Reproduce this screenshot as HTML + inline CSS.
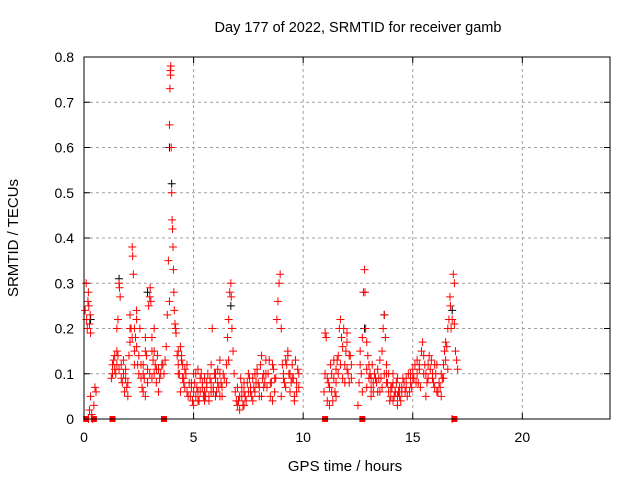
<!DOCTYPE html>
<html><head><meta charset="utf-8"><style>
body{margin:0;background:#fff}
svg{display:block;font-family:"Liberation Sans",sans-serif}
</style></head><body>
<svg id="chart" width="640" height="480">
<text x="358" y="32" font-size="14.5" text-anchor="middle">Day 177 of 2022, SRMTID for receiver gamb</text>
<text x="345" y="471" font-size="15" text-anchor="middle">GPS time / hours</text>
<text transform="translate(18,238) rotate(-90)" font-size="15" text-anchor="middle">SRMTID / TECUs</text>
<g id="grid"></g><g id="ticks"></g><g id="marks"></g>
<rect x="84" y="57" width="526" height="362" fill="none" stroke="#000" stroke-width="1"/>
</svg>
<script>
const xTicks=[0,5,10,15,20];
const yTicks=[0,0.1,0.2,0.3,0.4,0.5,0.6,0.7,0.8];
const yTickLabels=["0","0.1","0.2","0.3","0.4","0.5","0.6","0.7","0.8"];
const redTimes=[0.05,0.1,0.12,0.15,0.18,0.2,0.22,0.25,0.28,0.3,0.2,0.25,0.3,0.35,0.4,0.45,0.5,0.55,
1.25,1.3,1.35,1.4,1.45,1.5,1.55,1.6,1.62,1.65,1.7,1.75,1.8,1.85,1.9,1.95,2.0,1.5,1.55,1.6,
2.05,2.1,2.15,2.2,2.22,2.25,2.3,2.35,2.4,2.45,2.5,2.55,2.6,2.1,2.2,2.3,2.4,2.5,
2.65,2.7,2.75,2.8,2.85,2.9,2.95,3.0,3.02,3.05,3.1,3.15,3.2,3.25,3.3,3.35,3.4,3.45,3.5,3.55,2.7,2.8,3.1,3.2,
3.6,3.65,3.7,3.75,3.8,3.85,3.9,3.92,3.94,3.96,3.98,4.0,4.02,4.04,4.06,4.08,4.1,4.12,4.15,4.18,4.2,3.9,3.95,
4.25,4.3,4.35,4.4,4.45,4.5,4.55,4.6,4.65,4.7,4.75,4.8,4.3,4.4,4.5,4.6,
4.85,4.9,5.0,5.05,5.1,5.2,5.25,5.3,5.4,5.45,5.5,5.6,5.65,5.7,5.8,5.85,5.9,6.0,6.05,6.1,6.2,6.25,6.3,5.0,5.2,5.5,5.8,6.0,6.2,
6.35,6.4,6.5,6.55,6.6,6.65,6.7,6.72,6.75,6.8,6.85,6.9,6.95,7.0,6.5,6.6,
7.05,7.1,7.2,7.25,7.3,7.4,7.45,7.5,7.6,7.65,7.7,7.8,7.85,7.9,8.0,8.05,8.1,8.2,8.25,8.3,7.3,7.6,7.9,8.1,
8.35,8.4,8.5,8.55,8.6,8.7,8.75,8.8,8.85,8.9,8.95,9.0,9.05,9.1,9.15,9.2,9.3,9.35,9.4,9.5,9.55,9.6,9.7,9.75,9.8,8.6,9.0,9.3,9.6,
10.95,11.0,11.05,11.1,11.15,11.2,11.25,11.3,11.35,11.4,11.45,11.5,11.55,11.6,11.65,11.7,11.75,11.8,11.85,11.9,11.95,12.0,12.05,12.1,12.15,12.2,11.2,11.5,11.8,12.0,
12.5,12.55,12.6,12.65,12.7,12.75,12.8,12.82,12.85,12.9,12.95,13.0,13.05,13.1,13.15,13.2,13.25,13.3,12.7,12.9,13.1,
13.35,13.4,13.5,13.55,13.6,13.65,13.7,13.75,13.8,13.85,13.9,14.0,14.05,14.1,14.2,14.25,14.3,14.4,14.45,14.5,14.6,13.5,13.8,14.1,14.3,
14.65,14.7,14.8,14.85,14.9,15.0,15.05,15.1,15.2,15.25,15.3,15.4,15.45,15.5,15.6,15.65,15.7,15.8,15.85,15.9,16.0,16.05,16.1,16.2,16.25,16.3,16.35,15.2,15.6,16.0,
16.4,16.45,16.5,16.55,16.6,16.65,16.7,16.72,16.75,16.8,16.85,16.9,16.95,17.0,17.05,16.8,16.9];
const redValues=[0.24,0.3,0.22,0.2,0.26,0.28,0.25,0.21,0.23,0.19,0.0,0.02,0.05,0.01,0.0,0.03,0.07,0.06,
0.09,0.12,0.13,0.11,0.1,0.15,0.14,0.3,0.29,0.27,0.12,0.08,0.1,0.06,0.09,0.07,0.05,0.2,0.22,0.11,
0.14,0.17,0.2,0.38,0.36,0.32,0.2,0.18,0.16,0.12,0.14,0.2,0.09,0.23,0.18,0.15,0.24,0.1,
0.07,0.12,0.09,0.15,0.14,0.11,0.25,0.27,0.29,0.26,0.18,0.13,0.1,0.12,0.08,0.14,0.11,0.09,0.1,0.12,0.06,0.05,0.15,0.2,
0.12,0.1,0.13,0.16,0.23,0.35,0.65,0.73,0.77,0.78,0.6,0.5,0.44,0.42,0.38,0.33,0.28,0.24,0.21,0.2,0.19,0.26,0.76,
0.14,0.12,0.1,0.16,0.13,0.09,0.08,0.07,0.1,0.06,0.05,0.08,0.15,0.06,0.12,0.11,
0.05,0.07,0.03,0.08,0.05,0.06,0.04,0.09,0.07,0.05,0.06,0.08,0.1,0.05,0.06,0.2,0.07,0.09,0.06,0.11,0.13,0.08,0.07,0.1,0.11,0.04,0.12,0.1,0.05,
0.1,0.09,0.12,0.18,0.22,0.28,0.3,0.27,0.2,0.15,0.1,0.06,0.04,0.03,0.08,0.13,
0.04,0.02,0.05,0.03,0.06,0.04,0.08,0.1,0.07,0.05,0.09,0.06,0.08,0.1,0.07,0.12,0.14,0.1,0.08,0.13,0.03,0.06,0.11,0.05,
0.07,0.1,0.05,0.08,0.12,0.06,0.09,0.22,0.26,0.3,0.32,0.2,0.12,0.1,0.08,0.13,0.15,0.1,0.06,0.12,0.09,0.05,0.08,0.11,0.1,0.04,0.05,0.14,0.04,
0.06,0.19,0.18,0.04,0.08,0.07,0.12,0.1,0.04,0.09,0.06,0.11,0.13,0.14,0.2,0.22,0.18,0.16,0.2,0.12,0.15,0.17,0.1,0.08,0.14,0.12,0.03,0.05,0.09,0.19,
0.03,0.08,0.12,0.1,0.18,0.28,0.33,0.28,0.2,0.17,0.14,0.09,0.1,0.07,0.12,0.08,0.1,0.09,0.06,0.11,0.05,
0.08,0.11,0.13,0.09,0.15,0.2,0.23,0.18,0.12,0.08,0.06,0.05,0.07,0.04,0.06,0.08,0.05,0.07,0.04,0.06,0.08,0.06,0.1,0.1,0.03,
0.06,0.07,0.1,0.06,0.08,0.11,0.09,0.12,0.1,0.08,0.11,0.15,0.17,0.14,0.1,0.08,0.12,0.11,0.13,0.09,0.07,0.1,0.06,0.08,0.07,0.05,0.09,0.13,0.05,0.12,
0.12,0.15,0.17,0.16,0.2,0.22,0.27,0.25,0.2,0.22,0.32,0.3,0.15,0.13,0.11,0.0,0.21];
const redTimes2=[1.3,1.4,1.5,1.7,1.8,1.9,2.0,2.1,2.3,2.4,2.6,2.7,2.8,2.9,3.0,3.1,3.2,3.3,3.4,4.3,4.45,4.55,4.7,
4.9,4.95,5.0,5.1,5.15,5.2,5.3,5.35,5.4,5.5,5.55,5.6,5.7,5.75,5.8,5.9,5.95,6.0,6.1,6.15,6.2,6.3,
7.0,7.1,7.15,7.2,7.3,7.35,7.5,7.55,7.7,7.75,7.8,7.95,8.0,8.15,8.2,8.3,8.45,8.5,8.65,8.7,9.1,9.2,9.25,9.4,9.45,9.5,9.65,9.7,9.8,
11.0,11.1,11.3,11.4,11.5,11.6,11.7,11.9,12.0,12.1,12.2,12.6,12.9,13.0,13.1,13.2,
13.4,13.45,13.6,13.7,13.8,13.9,13.95,14.0,14.1,14.15,14.2,14.3,14.35,14.4,14.5,14.55,14.7,14.75,14.9,14.95,15.0,15.15,15.3,15.35,15.5,15.55,15.7,15.75,15.9,15.95,16.1,16.15,16.3,16.4,16.5,16.6];
const redValues2=[0.1,0.14,0.12,0.09,0.13,0.11,0.08,0.2,0.12,0.22,0.12,0.1,0.18,0.08,0.1,0.09,0.15,0.11,0.06,0.1,0.14,0.09,0.12,
0.08,0.04,0.06,0.1,0.07,0.04,0.06,0.1,0.08,0.09,0.05,0.07,0.04,0.09,0.08,0.06,0.1,0.05,0.08,0.07,0.1,0.05,
0.07,0.05,0.09,0.07,0.08,0.05,0.06,0.09,0.04,0.07,0.1,0.08,0.05,0.09,0.07,0.1,0.13,0.08,0.11,0.09,0.09,0.07,0.12,0.1,0.08,0.09,0.13,0.06,0.07,
0.1,0.09,0.06,0.13,0.08,0.1,0.12,0.08,0.11,0.14,0.09,0.15,0.07,0.12,0.09,0.06,
0.06,0.09,0.07,0.1,0.08,0.1,0.04,0.07,0.08,0.05,0.06,0.09,0.06,0.05,0.07,0.09,0.09,0.05,0.1,0.07,0.09,0.08,0.12,0.07,0.1,0.12,0.09,0.14,0.1,0.08,0.12,0.06,0.1,0.09,0.13,0.11];
const zeroTimes=[0.1,0.45,1.3,3.65,11.0,12.7,16.9];
const blackTimes=[0.3,1.6,2.9,3.9,4.0,6.7,12.8,13.7,16.8];
const blackValues=[0.22,0.31,0.28,0.6,0.52,0.25,0.2,0.23,0.24];

const NS="http://www.w3.org/2000/svg";
const X0=84,X1=610,Y0=419,Y1=57;
function xs(t){return X0+(t/24)*(X1-X0);}
function ys(v){return Y0-(v/0.8)*(Y0-Y1);}
function mk(tag,attrs,parent){const e=document.createElementNS(NS,tag);for(const k in attrs)e.setAttribute(k,attrs[k]);parent.appendChild(e);return e;}
const grid=document.getElementById('grid'),ticks=document.getElementById('ticks'),marks=document.getElementById('marks');
yTicks.forEach((v,i)=>{
  const y=ys(v);
  if(i>0&&i<yTicks.length-1){const g=mk('line',{x1:X0,x2:X1,y1:y,y2:y,stroke:'#a0a0a0','stroke-dasharray':'3,3'},grid);
  
  }
  const t=mk('line',{x1:X0,x2:X0+6,y1:y,y2:y,stroke:'#000'},ticks);
  
  
  mk('line',{x1:X1-6,x2:X1,y1:y,y2:y,stroke:'#000'},ticks);
  const l=mk('text',{x:X0-10,y:y+5,'font-size':14,'text-anchor':'end'},ticks);l.textContent=yTickLabels[i];
  
  
});
xTicks.forEach(v=>{
  const x=xs(v);
  if(v>0){const g=mk('line',{x1:x,x2:x,y1:Y1,y2:Y0,stroke:'#a0a0a0','stroke-dasharray':'3,3'},grid);
  
  }
  const t=mk('line',{x1:x,x2:x,y1:Y0,y2:Y0-6,stroke:'#000'},ticks);
  
  
  mk('line',{x1:x,x2:x,y1:Y1,y2:Y1+6,stroke:'#000'},ticks);
  const l=mk('text',{x:x,y:Y0+23,'font-size':14,'text-anchor':'middle'},ticks);l.textContent=String(v);
  
  
});
function plus(t,v,color,name){
  const x=xs(t),y=ys(v);
  const p=mk('path',{d:`M${x-4} ${y}H${x+4}M${x} ${y-4}V${y+4}`,stroke:color,'stroke-width':1,fill:'none'},marks);
  
  
}
blackTimes.forEach((t,i)=>plus(t,blackValues[i],'#000','black-point'));
redTimes.forEach((t,i)=>plus(t,redValues[i],'#f00','red-point'));
redTimes2.forEach((t,i)=>plus(t,redValues2[i],'#f00','red-point'));
zeroTimes.forEach(t=>{
  const r=mk('rect',{x:xs(t)-3,y:Y0-3,width:6,height:6,fill:'#f00'},marks);
  
  
});
</script>
</body></html>
